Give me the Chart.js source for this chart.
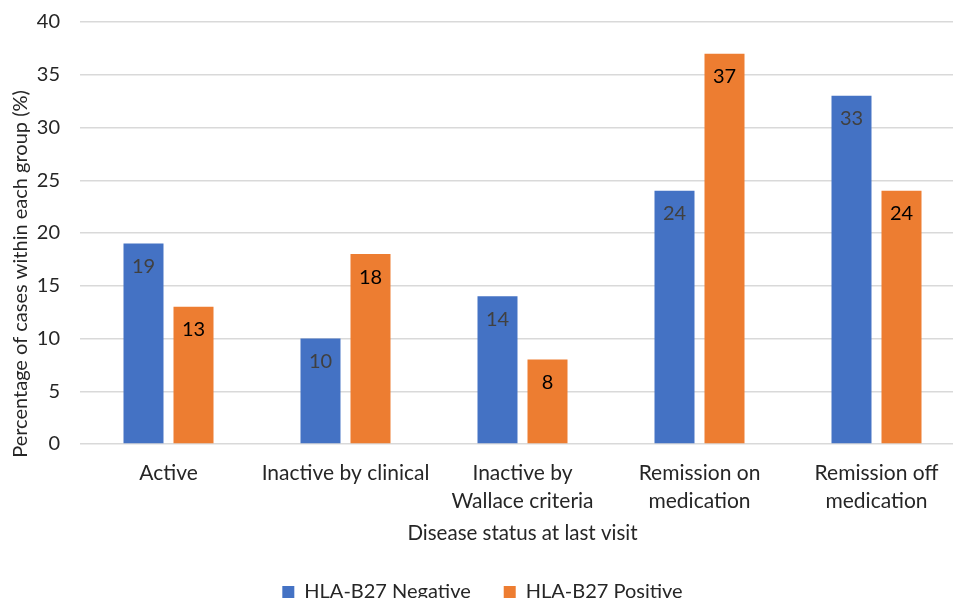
<!DOCTYPE html>
<html>
<head>
<meta charset="utf-8">
<script src="https://cdn.jsdelivr.net/npm/chart.js@4/dist/chart.umd.min.js"></script>
<style>
  html, body { margin: 0; padding: 0; overflow: hidden; background: #fff; }
  #wrap { position: relative; width: 965px; height: 612px; }
</style>
</head>
<body>
<div id="wrap"><canvas id="chart"></canvas></div>
<script>
// Disease status categories (multi-line labels)
const categories = [
  ['Active'],
  ['Inactive by clinical'],
  ['Inactive by', 'Wallace criteria'],
  ['Remission on', 'medication'],
  ['Remission off', 'medication']
];
const seriesNames = ['HLA-B27 Negative', 'HLA-B27 Positive'];
const negativeValues = [19, 10, 14, 24, 33];
const positiveValues = [13, 18, 8, 37, 24];
const yMin = 0;
const yMax = 40;
const yStep = 5;
const yTitle = 'Percentage of cases within each group (%)';
const xTitle = 'Disease status at last visit';

const FONT = 'Lato, "Open Sans", sans-serif';
const TEXT = '#262626';

// Writes each bar's value just inside its top edge
const valueLabels = {
  id: 'valueLabels',
  afterDatasetsDraw(chart) {
    const ctx = chart.ctx;
    ctx.save();
    ctx.font = '20px ' + FONT;
    ctx.textAlign = 'center';
    ctx.textBaseline = 'middle';
    chart.data.datasets.forEach((ds, di) => {
      const meta = chart.getDatasetMeta(di);
      meta.data.forEach((bar, i) => {
        ctx.fillStyle = ds.labelColor;
        ctx.fillText(String(ds.data[i]), bar.x, bar.y + 23);
      });
    });
    ctx.restore();
  }
};

// Vertical axis title, centred on the whole chart height rather than the plot area
const sideTitle = {
  id: 'sideTitle',
  afterDraw(chart) {
    const ctx = chart.ctx;
    ctx.save();
    ctx.translate(21, 274);
    ctx.rotate(-Math.PI / 2);
    ctx.font = '20px ' + FONT;
    ctx.fillStyle = TEXT;
    ctx.textAlign = 'center';
    ctx.textBaseline = 'middle';
    ctx.fillText(yTitle, 0, 0);
    ctx.restore();
  }
};

new Chart(document.getElementById('chart'), {
  type: 'bar',
  data: {
    labels: categories,
    datasets: [
      {
        label: seriesNames[0],
        data: negativeValues,
        backgroundColor: '#4472C4',
        labelColor: '#404040',
        categoryPercentage: 0.565,
        barPercentage: 0.8
      },
      {
        label: seriesNames[1],
        data: positiveValues,
        backgroundColor: '#ED7D31',
        labelColor: '#000000',
        categoryPercentage: 0.565,
        barPercentage: 0.8
      }
    ]
  },
  options: {
    responsive: true,
    maintainAspectRatio: false,
    animation: false,
    layout: { padding: { top: 22, right: 0, bottom: 0, left: 0 } },
    plugins: {
      legend: {
        position: 'bottom',
        labels: {
          boxWidth: 12,
          boxHeight: 12,
          padding: 33,
          color: TEXT,
          font: { family: FONT, size: 20 }
        }
      },
      tooltip: { enabled: false }
    },
    scales: {
      x: {
        grid: { display: false },
        border: { display: false },
        ticks: {
          color: TEXT,
          font: { family: FONT, size: 21, lineHeight: 1.3 },
          padding: 8,
          maxRotation: 0,
          autoSkip: false
        },
        title: {
          display: true,
          text: xTitle,
          color: TEXT,
          font: { family: FONT, size: 20.5, lineHeight: 1.2 },
          padding: { top: 0, bottom: 3 }
        },
        afterFit(scale) { scale.height = 105; }
      },
      y: {
        min: yMin,
        max: yMax,
        grid: { color: '#D9D9D9', lineWidth: 1.5, drawTicks: false },
        border: { display: false },
        ticks: {
          stepSize: yStep,
          color: TEXT,
          font: { family: FONT, size: 20 },
          padding: 20
        },
        afterFit(scale) {
          scale.width = 80;
          scale.paddingTop = 12;
          scale.paddingBottom = 12;
        }
      }
    }
  },
  plugins: [valueLabels, sideTitle]
});
</script>
</body>
</html>
